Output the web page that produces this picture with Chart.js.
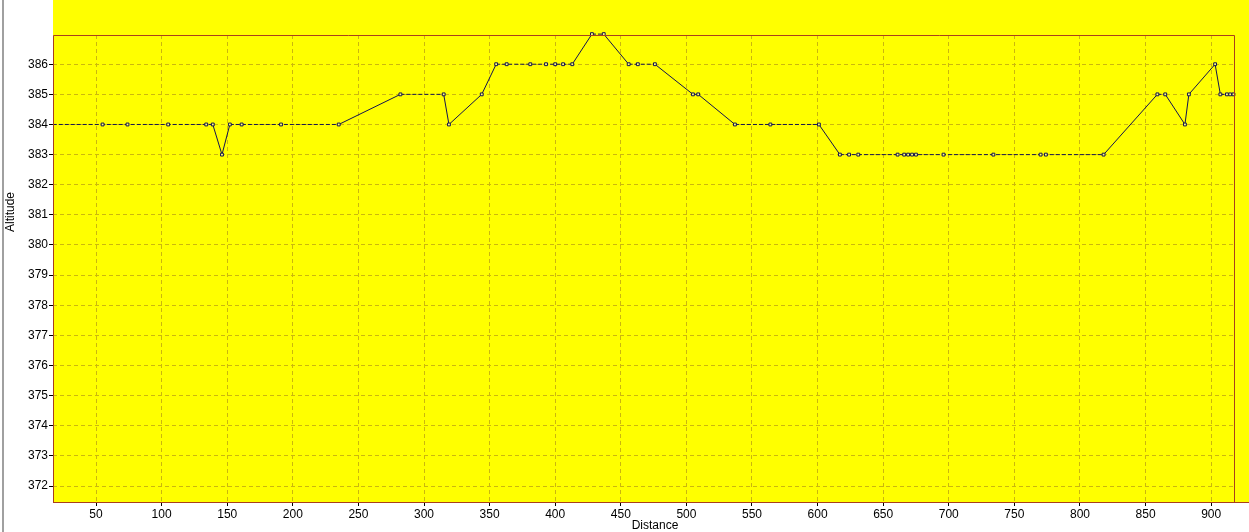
<!DOCTYPE html>
<html>
<head>
<meta charset="utf-8">
<title>Altitude profile</title>
<script src="https://cdn.jsdelivr.net/npm/chart.js@4/dist/chart.umd.min.js"></script>
<style>
    body { margin: 0; background: #fff; }
    canvas { display: block; }
</style>
</head>
<body>
<canvas id="profile" width="1249" height="532"></canvas>

<script>
    // distance / altitude
    const distance = [17, 55, 74, 105, 134, 139, 146, 152, 161, 191, 235,
        282, 315, 319, 344, 355, 363, 381, 393, 400, 406, 413, 428, 437,
        456, 463, 476, 505, 509, 537, 564, 601, 617, 624, 631, 661, 666,
        669, 672, 675, 696, 734, 770, 774, 818, 859, 865, 880, 883, 903,
        907, 912, 914.5, 917];
    const altitude = [384, 384, 384, 384, 384, 384, 383, 384, 384, 384, 384,
        385, 385, 384, 385, 386, 386, 386, 386, 386, 386, 386, 387, 387,
        386, 386, 386, 385, 385, 384, 384, 384, 383, 383, 383, 383, 383,
        383, 383, 383, 383, 383, 383, 383, 383, 385, 385, 384, 385, 386,
        385, 385, 385, 385];
    const xTicks = [50, 100, 150, 200, 250, 300, 350, 400, 450, 500, 550,
        600, 650, 700, 750, 800, 850, 900];
    const yTicks = [372, 373, 374, 375, 376, 377, 378, 379, 380, 381, 382,
        383, 384, 385, 386];

    const frameColor = '#a8401c';
    const gridColor = '#cbb70e';
    const lineColor = '#141450';
    const tickFont = { family: '"Liberation Sans", Arial, sans-serif', size: 12 };

    const background = {
        id: 'background',
        beforeDraw(chart) {
            const c = chart.ctx, a = chart.chartArea;
            c.save();
            c.fillStyle = '#ffffff';
            c.fillRect(0, 0, chart.width, chart.height);
            c.fillStyle = '#ffff00';
            c.fillRect(a.left, 0, chart.width - a.left, a.bottom);
            // thin grey line at the far left
            c.fillStyle = '#a0a0a0';
            c.fillRect(2, 0, 2, chart.height);
            c.restore();
        },
        afterDatasetsDraw(chart) {
            const c = chart.ctx, a = chart.chartArea;
            c.save();
            c.setLineDash([]);
            c.strokeStyle = frameColor;
            c.lineWidth = 1;
            c.beginPath();
            c.moveTo(a.left + 0.5, a.bottom);
            c.lineTo(a.left + 0.5, a.top + 0.5);
            c.lineTo(a.right + 0.5, a.top + 0.5);
            c.lineTo(a.right + 0.5, a.bottom);
            c.moveTo(a.left, a.bottom + 0.5);
            c.lineTo(chart.width, a.bottom + 0.5);
            c.stroke();
            c.fillStyle = '#000';
            c.font = '12px "Liberation Sans", Arial, sans-serif';
            c.textAlign = 'center';
            c.textBaseline = 'middle';
            c.fillText('Distance', 655, 526);
            c.translate(11, 212);
            c.rotate(-Math.PI / 2);
            c.fillText('Altitude', 0, 0);
            c.restore();
        }
    };

    const dashedIfFlat = ctx => ctx.p0.parsed.y === ctx.p1.parsed.y ? [4, 2] : undefined;

    new Chart(document.getElementById('profile'), {
        type: 'line',
        data: {
            datasets: [{
                data: distance.map((d, i) => ({ x: d, y: altitude[i] })),
                borderColor: lineColor,
                borderWidth: 1,
                pointStyle: 'rect',
                pointRadius: ctx => ctx.dataIndex === 0 ? 0 : 2,
                pointBorderWidth: 1,
                pointBorderColor: lineColor,
                pointBackgroundColor: '#ffff80',
                tension: 0,
                clip: false,
                segment: { borderDash: dashedIfFlat }
            }]
        },
        options: {
            responsive: false,
            animation: false,
            layout: { padding: { top: 35, right: 15, left: 0, bottom: 0 } },
            plugins: { legend: { display: false }, tooltip: { enabled: false } },
            scales: {
                x: {
                    type: 'linear',
                    min: 17.2,
                    max: 917.4,
                    afterBuildTicks: s => { s.ticks = xTicks.map(v => ({ value: v })); },
                    afterFit: s => { s.height = 30; },
                    border: { display: false, dash: [4, 3] },
                    grid: {
                        color: gridColor,
                        tickColor: '#000',
                        tickLength: 4,
                        tickBorderDash: []
                    },
                    ticks: { color: '#000', padding: 1, maxRotation: 0, autoSkip: false, font: tickFont }
                },
                y: {
                    min: 371.47,
                    max: 386.97,
                    afterBuildTicks: s => { s.ticks = yTicks.map(v => ({ value: v })); },
                    afterFit: s => { s.width = 53; },
                    border: { display: false, dash: [4, 3] },
                    grid: {
                        color: gridColor,
                        tickColor: '#000',
                        tickLength: 4,
                        tickBorderDash: []
                    },
                    ticks: { color: '#000', padding: 1, autoSkip: false, font: tickFont }
                }
            }
        },
        plugins: [background]
    });
</script>
</body>
</html>
